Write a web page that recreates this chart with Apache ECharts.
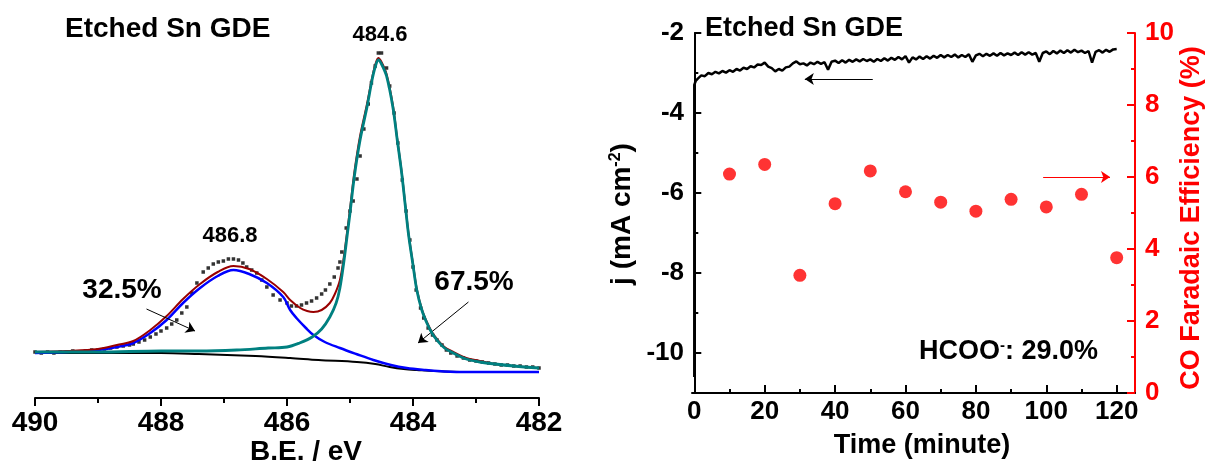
<!DOCTYPE html>
<html>
<head>
<meta charset="utf-8">
<script src="https://cdn.jsdelivr.net/npm/echarts@6/dist/echarts.min.js"></script>
<style>
  html, body { margin: 0; padding: 0; background: #fff; }
  #chart { width: 1209px; height: 463px; }
</style>
</head>
<body>
<div id="chart"></div>
<script>
// ---- left panel: Sn 3d XPS (B.E. in eV, intensity in a.u.) ----
const xpsRaw = [
  [490.0,46],[489.9,45],[489.8,46],[489.7,45],[489.6,46],[489.5,46],[489.4,47],[489.3,46],[489.2,47],[489.1,48],
  [489.0,48],[488.9,49],[488.8,50],[488.7,51],[488.6,52],[488.5,53],[488.44,54],[488.35,56],[488.26,58],[488.17,61],
  [488.08,64],[488.0,67],[487.91,70],[487.83,74],[487.75,78],[487.67,85],[487.59,91],[487.51,105],[487.43,115],[487.33,126],
  [487.25,130],[487.17,134],[487.09,136],[487.01,137],[486.93,139],[486.85,139],[486.77,138],[486.7,135],[486.64,131],[486.56,128],
  [486.48,125],[486.4,118],[486.32,111],[486.22,103],[486.11,98],[486.0,95],[485.93,92],[485.85,92],[485.77,93],[485.69,95],
  [485.61,97],[485.53,100],[485.45,104],[485.39,108],[485.32,114],[485.25,121],[485.19,130],[485.16,136],[485.13,146],[485.06,170],
  [485.0,187],[484.95,197],[484.89,219],[484.84,242],[484.78,269],[484.71,294],[484.66,315],[484.6,332],[484.55,345],[484.5,345],
  [484.42,330],[484.37,312],[484.3,285],[484.24,255],[484.17,218],[484.11,187],[484.05,158],[484.0,131],[483.95,108],[483.88,90],
  [483.83,80],[483.76,70],[483.69,63],[483.62,58],[483.54,53],[483.47,48],[483.4,45],[483.3,42],[483.2,40],[483.1,38],
  [483.0,37],[482.9,36],[482.8,35],[482.7,34],[482.6,33],[482.5,33],[482.4,32],[482.3,32],[482.2,31],[482.1,31],[482.0,30]
];
const xpsEnvelope = [
  [490,46],[489.5,47],[489,49],[488.7,53],[488.44,57],[488.17,68],[487.91,82],[487.65,99],[487.38,114],[487.1,126],
  [486.85,132],[486.6,129],[486.32,119],[486.06,106],[485.95,98],[485.79,90],[485.68,87],[485.58,86],[485.45,88],[485.32,95],
  [485.24,104],[485.16,118],[485.1,140],[485.04,169],[485.0,189],[484.93,226],[484.84,262],[484.73,294],[484.65,320],[484.6,333],
  [484.55,340],[484.5,336],[484.42,324],[484.32,293],[484.25,259],[484.18,226],[484.12,192],[484.07,164],[484.0,134],[483.94,109],
  [483.86,89],[483.78,76],[483.7,66],[483.62,59],[483.5,51],[483.36,46],[483.2,41],[483.1,39],[482.94,37],[482.7,34],
  [482.4,32],[482,30]
];
const xpsSnOx = [
  [490,45],[489.5,46],[489,48],[488.7,51],[488.44,55],[488.17,65],[487.91,78],[487.65,95],[487.38,110],[487.1,122],
  [486.85,128],[486.6,124],[486.32,115],[486.06,101],[485.95,88],[485.85,80],[485.7,70],[485.58,63],[485.4,56],[485.16,50],
  [484.9,44],[484.63,38],[484.35,33],[484.1,30],[483.8,28],[483.5,26.5],[483.1,26],[482,26]
];
const xpsSn0 = [
  [490,46],[489,46],[488,47],[487.4,47],[486.8,48],[486.3,50],[486.0,51],[485.8,55],[485.6,61],[485.45,69],
  [485.32,81],[485.22,95],[485.16,110],[485.1,135],[485.04,165],[485.0,185],[484.93,222],[484.84,258],[484.73,291],[484.65,318],
  [484.6,331],[484.55,338],[484.5,334],[484.42,322],[484.32,291],[484.25,258],[484.18,225],[484.12,191],[484.07,163],[484.0,133],
  [483.94,108],[483.86,88],[483.78,75],[483.7,65],[483.62,58],[483.5,50],[483.36,45],[483.2,40],[483.1,38],[482.94,36],
  [482.7,34],[482.4,32],[482,30]
];
const xpsBackground = [
  [490,45],[489,45],[488,45],[487.4,44],[486.5,42],[485.95,40],[485.5,38],[484.89,36],[484.6,34],[484.37,31],
  [484.15,29],[483.94,28],[483.5,26.5],[483,26],[482,26]
];

// ---- right panel: chronoamperometry + CO faradaic efficiency ----
const jStart = [[0, -10.6], [0, -3.3], [0.4, -3.2]];
// j (mA cm-2) read every minute, t = 1 ... 120
const jPerMinute = [
  -3.14,-3.06,-3.08,-3.0,-3.03,-2.97,-3.01,-2.95,-2.99,-2.93,
  -2.97,-2.9,-2.94,-2.87,-2.9,-2.83,-2.86,-2.79,-2.8,-2.74,
  -2.84,-2.88,-2.96,-2.9,-2.94,-2.86,-2.84,-2.76,-2.71,-2.78,
  -2.76,-2.81,-2.74,-2.78,-2.72,-2.77,-2.73,-2.92,-2.72,-2.69,
  -2.75,-2.68,-2.74,-2.67,-2.72,-2.66,-2.71,-2.65,-2.7,-2.66,
  -2.72,-2.65,-2.7,-2.63,-2.69,-2.62,-2.67,-2.6,-2.66,-2.58,
  -2.74,-2.61,-2.66,-2.59,-2.65,-2.58,-2.64,-2.57,-2.62,-2.55,
  -2.61,-2.55,-2.6,-2.54,-2.61,-2.55,-2.6,-2.53,-2.72,-2.56,
  -2.52,-2.58,-2.52,-2.57,-2.51,-2.57,-2.5,-2.56,-2.51,-2.55,
  -2.49,-2.55,-2.48,-2.54,-2.48,-2.54,-2.5,-2.72,-2.5,-2.46,
  -2.53,-2.45,-2.51,-2.44,-2.5,-2.43,-2.49,-2.42,-2.48,-2.44,
  -2.5,-2.45,-2.74,-2.47,-2.43,-2.49,-2.42,-2.47,-2.41,-2.4
];
const feTime = [10, 20, 30, 40, 50, 60, 70, 80, 90, 100, 110, 120];
const feCO = [6.08, 6.35, 3.27, 5.26, 6.17, 5.59, 5.30, 5.05, 5.38, 5.17, 5.52, 3.76];
const timeTicks = [0, 20, 40, 60, 80, 100, 120];
const timeMinor = [10, 30, 50, 70, 90, 110];
const jTicks = [-10, -8, -6, -4, -2];
const jMinor = [-9, -7, -5, -3];

const jTrace = jStart.concat(jPerMinute.map((v, i) => [i + 1, v]));
const feData = feTime.map((t, i) => [t, feCO[i]]);

const FONT = '"Liberation Sans", Arial, sans-serif';
const RED = '#ff0000';

const chart = echarts.init(document.getElementById('chart'));

const lineSeries = (name, data, color, width, z) => ({
  name, type: 'line', xAxisIndex: 0, yAxisIndex: 0, data,
  smooth: 0.35, showSymbol: false, symbol: 'none', z,
  lineStyle: { color, width }, silent: true
});

const arrowStyle = (color) => ({
  silent: true, symbol: ['none', 'arrow'], symbolSize: 9,
  label: { show: false }, lineStyle: { color, width: 1, type: 'solid' },
  emphasis: { disabled: true }, animation: false
});

chart.setOption({
  animation: false,
  grid: [
    { left: 35, width: 504, top: 48, height: 350 },
    { left: 692, width: 443, top: 33, height: 360 }
  ],
  xAxis: [
    {
      gridIndex: 0, type: 'value', inverse: true, min: 482, max: 490, interval: 2,
      axisLine: { lineStyle: { color: '#000', width: 2 } },
      axisTick: { inside: false, length: 8, lineStyle: { color: '#000', width: 2 } },
      minorTick: { show: true, splitNumber: 2, length: 5, lineStyle: { color: '#000', width: 2 } },
      axisLabel: { margin: 11, color: '#000', fontSize: 28, fontWeight: 'bold', fontFamily: FONT },
      splitLine: { show: false }
    },
    {
      gridIndex: 1, type: 'value', position: 'bottom', min: -0.65, max: 125.2,
      axisLine: { lineStyle: { color: '#000', width: 2 } },
      axisTick: { inside: true, length: 8, customValues: timeTicks, lineStyle: { color: '#000', width: 2 } },
      axisLabel: { margin: 6, customValues: timeTicks, color: '#000', fontSize: 26, fontWeight: 'bold', fontFamily: FONT },
      splitLine: { show: false }
    },
    {
      gridIndex: 1, type: 'value', position: 'bottom', min: -0.65, max: 125.2,
      axisLine: { show: false },
      axisTick: { inside: true, length: 4, customValues: timeMinor, lineStyle: { color: '#000', width: 2 } },
      axisLabel: { show: false },
      splitLine: { show: false }
    }
  ],
  yAxis: [
    { gridIndex: 0, type: 'value', min: 0, max: 350, show: false },
    {
      gridIndex: 1, type: 'value', position: 'left', min: -11, max: -2,
      axisLine: { show: true, lineStyle: { color: '#000', width: 2 } },
      axisTick: { show: true, inside: true, length: 7, customValues: jTicks, lineStyle: { color: '#000', width: 2 } },
      axisLabel: { margin: 8, customValues: jTicks, color: '#000', fontSize: 26, fontWeight: 'bold', fontFamily: FONT },
      splitLine: { show: false }
    },
    {
      gridIndex: 1, type: 'value', position: 'left', min: -11, max: -2,
      axisLine: { show: false },
      axisTick: { show: true, inside: true, length: 4, customValues: jMinor, lineStyle: { color: '#000', width: 2 } },
      axisLabel: { show: false },
      splitLine: { show: false }
    },
    {
      gridIndex: 1, type: 'value', position: 'right', min: 0, max: 10, interval: 2,
      axisLine: { show: true, lineStyle: { color: RED, width: 2 } },
      axisTick: { show: true, inside: true, length: 8, lineStyle: { color: RED, width: 2 } },
      minorTick: { show: true, splitNumber: 2, length: 4, lineStyle: { color: RED, width: 2 } },
      axisLabel: { margin: 10, color: RED, fontSize: 26, fontWeight: 'bold', fontFamily: FONT },
      splitLine: { show: false }
    }
  ],
  series: [
    {
      name: 'raw', type: 'scatter', xAxisIndex: 0, yAxisIndex: 0, data: xpsRaw,
      symbol: 'rect', symbolSize: 3.5, itemStyle: { color: '#000' }, z: 1, silent: true
    },
    Object.assign(lineSeries('background', xpsBackground, '#000', 2, 2), {
      markLine: Object.assign(arrowStyle('#000'), {
        data: [
          [{ coord: [488.23, 89] }, { coord: [487.46, 67] }],
          [{ coord: [483.12, 96] }, { coord: [483.92, 55] }]
        ]
      })
    }),
    lineSeries('Sn oxide', xpsSnOx, '#0000ff', 2.5, 3),
    lineSeries('envelope', xpsEnvelope, '#990000', 2, 4),
    lineSeries('Sn metal', xpsSn0, '#008080', 2.8, 5),
    {
      name: 'j', type: 'line', xAxisIndex: 1, yAxisIndex: 1, data: jTrace,
      showSymbol: false, symbol: 'none', lineStyle: { color: '#000', width: 2.5 }, silent: true,
      markLine: Object.assign(arrowStyle('#000'), {
        data: [[{ coord: [50.7, -3.15] }, { coord: [31.4, -3.15] }]]
      })
    },
    {
      name: 'FE CO', type: 'scatter', xAxisIndex: 1, yAxisIndex: 3, data: feData,
      symbol: 'circle', symbolSize: 13, itemStyle: { color: RED }, silent: true,
      markLine: Object.assign(arrowStyle(RED), {
        data: [[{ coord: [99.1, 6.0] }, { coord: [118.1, 6.0] }]]
      })
    }
  ],
  graphic: [
    { type: 'text', left: 65, top: 15, style: { text: 'Etched Sn GDE', fill: '#000', font: 'bold 28px ' + FONT } },
    { type: 'text', x: 230, y: 236, style: { text: '486.8', fill: '#000', font: 'bold 22px ' + FONT, align: 'center', verticalAlign: 'middle' } },
    { type: 'text', x: 380, y: 35, style: { text: '484.6', fill: '#000', font: 'bold 22px ' + FONT, align: 'center', verticalAlign: 'middle' } },
    { type: 'text', x: 122, y: 290, style: { text: '32.5%', fill: '#000', font: 'bold 28px ' + FONT, align: 'center', verticalAlign: 'middle' } },
    { type: 'text', x: 474, y: 282, style: { text: '67.5%', fill: '#000', font: 'bold 28px ' + FONT, align: 'center', verticalAlign: 'middle' } },
    { type: 'text', x: 306, y: 452, style: { text: 'B.E. / eV', fill: '#000', font: 'bold 28px ' + FONT, align: 'center', verticalAlign: 'middle' } },
    { type: 'text', left: 705, top: 15, style: { text: 'Etched Sn GDE', fill: '#000', font: 'bold 27px ' + FONT } },
    {
      type: 'text', x: 919, y: 352,
      style: {
        text: 'HCOO{sup|-}: 29.0%', fill: '#000', font: 'bold 27px ' + FONT, verticalAlign: 'middle',
        rich: { sup: { fontSize: 15, fontWeight: 'bold', fontFamily: FONT, verticalAlign: 'top', fill: '#000' } }
      }
    },
    { type: 'text', x: 922, y: 446, style: { text: 'Time (minute)', fill: '#000', font: 'bold 27px ' + FONT, align: 'center', verticalAlign: 'middle' } },
    {
      type: 'text', x: 622, y: 214, rotation: Math.PI / 2,
      style: {
        text: 'j (mA cm{sup|-2})', fill: '#000', font: 'bold 28px ' + FONT, align: 'center', verticalAlign: 'middle',
        rich: { sup: { fontSize: 16, fontWeight: 'bold', fontFamily: FONT, verticalAlign: 'top', fill: '#000' } }
      }
    },
    {
      type: 'text', x: 1192, y: 218, rotation: Math.PI / 2,
      style: { text: 'CO Faradaic Efficiency (%)', fill: RED, font: 'bold 27px ' + FONT, align: 'center', verticalAlign: 'middle' }
    }
  ]
});
</script>
</body>
</html>
